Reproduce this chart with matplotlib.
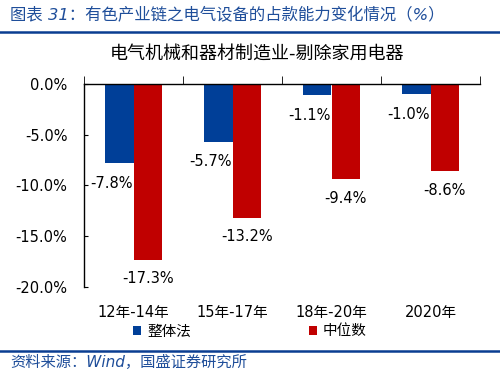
import numpy as np
import matplotlib.pyplot as plt

plt.rcParams['font.family'] = ['DejaVu Sans', 'Noto Sans CJK SC']

periods = ["12年-14年", "15年-17年", "18年-20年", "2020年"]
overall = [-7.8, -5.7, -1.1, -1.0]    # 整体法
median = [-17.3, -13.2, -9.4, -8.6]   # 中位数
yticks = [0, -5, -10, -15, -20]

blue = '#003F98'
red = '#C00000'
hdr = '#1F4E9A'

fig = plt.figure(figsize=(5, 3.76), dpi=100)
ax = fig.add_axes([0.168, 0.2367, 0.792, 0.54])

x = np.arange(len(periods))
w = 0.285
b1 = ax.bar(x - w/2, overall, w, color=blue, label="整体法")
b2 = ax.bar(x + w/2, median, w, color=red, label="中位数")

for xi, v in zip(x, overall):
    ax.annotate(f"{v:.1f}%", (xi - w/2 - 0.08, v), xytext=(0, -20),
                textcoords='offset pixels', ha='center', va='center', fontsize=10.5)
for xi, v in zip(x, median):
    ax.annotate(f"{v:.1f}%", (xi + w/2, v), xytext=(0, -19),
                textcoords='offset pixels', ha='center', va='center', fontsize=10.5)

ax.set_xlim(-0.5, len(periods) - 0.5)
ax.set_ylim(-20, 0)
ax.set_yticks(yticks)
ax.set_yticklabels([f"{t:.1f}%" for t in yticks])
ax.tick_params(axis='y', direction='in', length=3, labelsize=10.5, pad=12)

ax.set_xticks(x)
ax.set_xticklabels(periods)
ax.tick_params(axis='x', which='major', length=0, bottom=True, top=False,
               labelsize=10.5, pad=13)
ax.set_xticks(np.arange(len(periods) + 1) - 0.5, minor=True)
ax.tick_params(axis='x', which='minor', top=True, bottom=False,
               direction='out', length=6)

ax.spines['bottom'].set_visible(False)
ax.spines['right'].set_visible(False)
for s in ['top', 'left']:
    ax.spines[s].set_linewidth(1)

ax.legend(loc='center', bbox_to_anchor=(0.5, 1 - 331/376), bbox_transform=fig.transFigure,
          ncol=2, frameon=False, fontsize=10.5, handlelength=0.55, handleheight=0.55,
          handletextpad=0.4, columnspacing=8.1)

fig.text(257/500, 1 - 54/376, "电气机械和器材制造业-剔除家用电器", ha='center', va='center',
         fontsize=13)

# header and footer
fig.text(10/500, 1 - 15/376, "图表 31：有色产业链之电气设备的占款能力变化情况（%）",
         ha='left', va='center', fontsize=11.8, color=hdr, style='italic')
fig.add_artist(plt.Line2D([0, 1], [1 - 32/376] * 2, color='#0A3D91', lw=1.8))
fig.add_artist(plt.Line2D([0, 1], [1 - 351/376] * 2, color='#0A3D91', lw=1.8))
fig.text(10/500, 1 - 362/376, "资料来源：Wind，国盛证券研究所", ha='left', va='center',
         fontsize=11, color=hdr, style='italic')

fig.savefig('out.png', dpi=100)
